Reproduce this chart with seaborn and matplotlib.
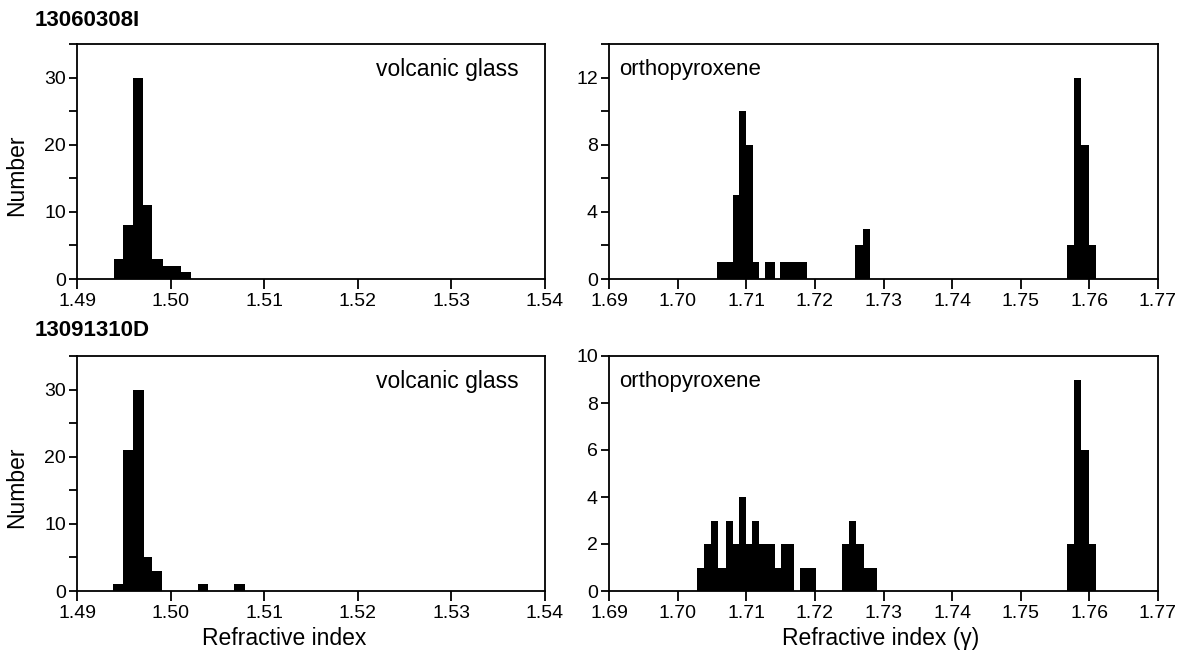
import numpy as np
import pandas as pd
import seaborn as sns
import matplotlib
matplotlib.use("Agg")
import matplotlib.pyplot as plt
from matplotlib.ticker import MultipleLocator

# ---------------- data ----------------
sample_names = ["13060308I", "13091310D"]
mineral_names = ["volcanic glass", "orthopyroxene"]

# 13060308I volcanic glass
glass1_edges = [1.4939, 1.4949, 1.4960, 1.4970, 1.4980, 1.4992, 1.5011, 1.5022]
glass1_counts = [3, 8, 30, 11, 3, 2, 1]

# 13060308I orthopyroxene
opx1_edges = [1.7057, 1.7069, 1.7080, 1.7090, 1.7100, 1.7110, 1.7119, 1.7128,
              1.7142, 1.7149, 1.7189, 1.7258, 1.7270, 1.7281, 1.7567, 1.7577,
              1.7588, 1.7600, 1.7610]
opx1_counts = [1, 1, 5, 10, 8, 1, 0, 1, 0, 1, 0, 2, 3, 0, 2, 12, 8, 2]

# 13091310D volcanic glass
glass2_edges = [1.4938, 1.4949, 1.4960, 1.4972, 1.4980, 1.4991, 1.5029, 1.5040,
                1.5068, 1.5079]
glass2_counts = [1, 21, 30, 5, 3, 0, 1, 0, 1]

# 13091310D orthopyroxene
opx2_edges = [1.7028, 1.7038, 1.7048, 1.7059, 1.7070, 1.7081, 1.7089, 1.7100,
              1.7108, 1.7119, 1.7142, 1.7150, 1.7170, 1.7178, 1.7202, 1.7239,
              1.7249, 1.7260, 1.7272, 1.7291, 1.7567, 1.7577, 1.7588, 1.7600,
              1.7610]
opx2_counts = [1, 2, 3, 1, 3, 2, 4, 2, 3, 2, 1, 2, 0, 1, 0, 2, 3, 2, 1, 0,
               2, 9, 6, 2]

glass_xlim = (1.49, 1.54)
opx_xlim = (1.69, 1.77)
glass_xticks = [1.49, 1.50, 1.51, 1.52, 1.53, 1.54]
opx_xticks = [1.69, 1.70, 1.71, 1.72, 1.73, 1.74, 1.75, 1.76, 1.77]

# ---------------- style ----------------
sns.set_style("ticks")
plt.rcParams["font.family"] = ["Liberation Sans", "DejaVu Sans"]
plt.rcParams["text.color"] = "black"
plt.rcParams["axes.labelcolor"] = "black"
plt.rcParams["xtick.color"] = "black"
plt.rcParams["ytick.color"] = "black"
plt.rcParams["axes.edgecolor"] = "black"
plt.rcParams["axes.linewidth"] = 1.3
plt.rcParams["xtick.major.width"] = 1.3
plt.rcParams["ytick.major.width"] = 1.3
plt.rcParams["ytick.minor.width"] = 1.3

W, H = 1184, 655
fig = plt.figure(figsize=(W / 100, H / 100), dpi=100)
fig.patch.set_facecolor("white")


def px_axes(x0, y0, x1, y1):
    return fig.add_axes([x0 / W, 1 - y1 / H, (x1 - x0) / W, (y1 - y0) / H])


ax_tl = px_axes(77, 44, 545, 279)
ax_tr = px_axes(609, 44, 1158, 279)
ax_bl = px_axes(77, 356, 545, 591)
ax_br = px_axes(609, 356, 1158, 591)

panels = [
    (ax_tl, glass1_edges, glass1_counts, "glass", 35, 10, 5),
    (ax_tr, opx1_edges, opx1_counts, "opx", 14, 4, 2),
    (ax_bl, glass2_edges, glass2_counts, "glass", 35, 10, 5),
    (ax_br, opx2_edges, opx2_counts, "opx", 10, 2, None),
]

tick_fs = 14
label_fs = 16.5

for ax, edges, counts, kind, ytop, ymaj, ymin in panels:
    e = np.asarray(edges, dtype=float)
    centers = (e[:-1] + e[1:]) / 2
    df = pd.DataFrame({"ri": centers, "n": np.asarray(counts, dtype=float)})
    sns.histplot(data=df, x="ri", weights="n", bins=list(edges),
                 stat="count", color="black", alpha=1.0, linewidth=0,
                 element="bars", ax=ax)
    if kind == "glass":
        ax.set_xlim(*glass_xlim)
        ax.set_xticks(glass_xticks)
        ax.set_xticklabels([f"{t:.2f}" for t in glass_xticks])
        ax.text(0.944, 0.89, mineral_names[0], transform=ax.transAxes,
                ha="right", va="center", fontsize=16.5, color="black")
        ax.set_ylabel("Number", fontsize=label_fs, color="black")
        ax.yaxis.set_label_coords(-0.105, 0.44)
    else:
        ax.set_xlim(*opx_xlim)
        ax.set_xticks(opx_xticks)
        ax.set_xticklabels([f"{t:.2f}" for t in opx_xticks])
        ax.text(0.018, 0.89, mineral_names[1], transform=ax.transAxes,
                ha="left", va="center", fontsize=16, color="black")
        ax.set_ylabel("")
    ax.set_ylim(0, ytop)
    ax.yaxis.set_major_locator(MultipleLocator(ymaj))
    if ymin is not None:
        ax.yaxis.set_minor_locator(MultipleLocator(ymin))
    ax.set_xlabel("")
    ax.tick_params(axis="both", which="both", direction="out", colors="black",
                   labelsize=tick_fs)
    ax.tick_params(axis="x", which="major", length=7, pad=3)
    ax.tick_params(axis="y", which="major", length=6, pad=2)
    ax.tick_params(axis="y", which="minor", length=6)
    for s in ax.spines.values():
        s.set_visible(True)
        s.set_color("black")
        s.set_linewidth(1.3)
    ax.set_facecolor("white")

ax_bl.set_xlabel("Refractive index", fontsize=label_fs, color="black")
ax_bl.xaxis.set_label_coords(0.442, -0.155)
ax_br.set_xlabel("Refractive index (γ)", fontsize=label_fs, color="black")
ax_br.xaxis.set_label_coords(0.495, -0.155)

fig.text(35 / W, 1 - 21 / H, sample_names[0], fontsize=16, fontweight="bold",
         ha="left", va="center", color="black")
fig.text(35 / W, 1 - 331 / H, sample_names[1], fontsize=16, fontweight="bold",
         ha="left", va="center", color="black")

fig.savefig("out.png", dpi=100, facecolor="white")
